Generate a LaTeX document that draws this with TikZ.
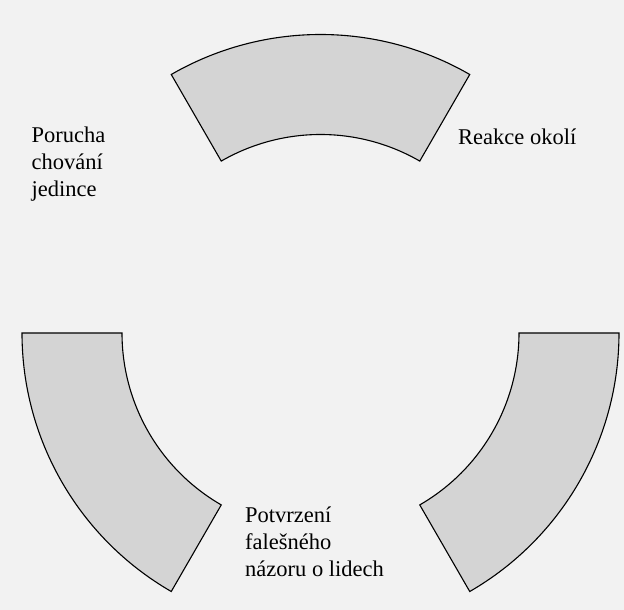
\documentclass[tikz,border=0pt]{standalone}
\usepackage{fontspec}
\setmainfont{Liberation Serif}
\definecolor{bgcol}{RGB}{242,242,242}
\definecolor{sectorfill}{RGB}{212,212,212}
\tikzset{
  sector/.style={draw=black, line width=1.1pt, fill=sectorfill, line join=miter},
  label/.style={inner sep=0pt, anchor=base west, font=\fontsize{22.5}{27}\selectfont},
}
\newcommand{\ringpart}[2]{%
  \draw[sector] ([shift={(#1:298.5)}]C) arc[start angle=#1, end angle=#2, radius=298.5]
    -- ([shift={(#2:198.5)}]C) arc[start angle=#2, end angle=#1, radius=198.5] -- cycle;}
\begin{document}
\begin{tikzpicture}[x=1pt, y=1pt]
  \fill[bgcol] (0,0) rectangle (624,610);
  \useasboundingbox (0,0) rectangle (624,610);
  \coordinate (C) at (320.5,277);
  \ringpart{60}{120}
  \ringpart{180}{240}
  \ringpart{300}{360}
  \node[label] (porucha) at (31.5,467) {\begin{tabular}[t]{@{}l@{}}Porucha\\chování\\jedince\end{tabular}};
  \node[label] (reakce) at (458,465) {Reakce okolí};
  \node[label] (potvrzeni) at (245,87) {\begin{tabular}[t]{@{}l@{}}Potvrzení\\falešného\\názoru o lidech\end{tabular}};
\end{tikzpicture}
\end{document}
